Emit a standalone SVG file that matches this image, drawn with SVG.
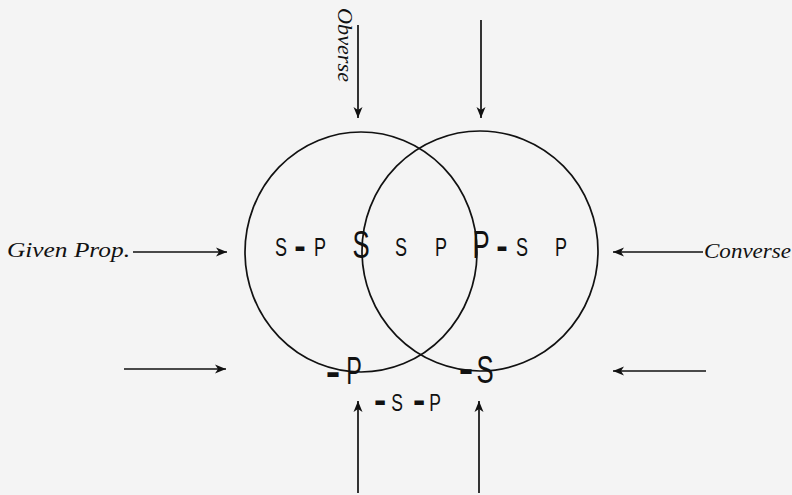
<svg xmlns="http://www.w3.org/2000/svg" width="792" height="495" viewBox="0 0 792 495">
<style>
.c{fill:none;stroke:#111;stroke-width:1.7}
.a{stroke:#111;stroke-width:1.7;fill:none}
.l{font-family:"Liberation Serif","DejaVu Serif",serif;font-style:italic;font-size:21px;fill:#111}
.s{font-family:"Liberation Sans","DejaVu Sans",sans-serif;font-size:25px;fill:#111;text-anchor:middle}
.b{font-family:"Liberation Sans","DejaVu Sans",sans-serif;font-size:39px;fill:#111;text-anchor:middle}
.d{font-family:"Liberation Sans","DejaVu Sans",sans-serif;font-weight:bold;font-size:23px;fill:#111;text-anchor:middle}
</style>
<defs>
<marker id="ah" markerUnits="userSpaceOnUse" markerWidth="12" markerHeight="10" refX="11" refY="5" orient="auto">
<path d="M0,0.5 L11,5 L0,9.5 L3,5 z" fill="#111"/>
</marker>
</defs>
<rect width="792" height="495" fill="#f4f4f4"/>
<g id="circle-S"><ellipse class="c" cx="361" cy="252" rx="116" ry="120"/></g>
<g id="circle-P"><ellipse class="c" cx="480" cy="251" rx="118" ry="120"/></g>
<g id="connectors">
<line class="a" x1="358" y1="25" x2="358" y2="118" marker-end="url(#ah)"/>
<line class="a" x1="481" y1="20" x2="481" y2="118" marker-end="url(#ah)"/>
<line class="a" x1="133" y1="252" x2="227" y2="252" marker-end="url(#ah)"/>
<line class="a" x1="703" y1="252" x2="613" y2="252" marker-end="url(#ah)"/>
<line class="a" x1="124" y1="369" x2="226" y2="369" marker-end="url(#ah)"/>
<line class="a" x1="706" y1="371" x2="613" y2="371" marker-end="url(#ah)"/>
<line class="a" x1="358" y1="493" x2="358" y2="401" marker-end="url(#ah)"/>
<line class="a" x1="479" y1="493" x2="479" y2="401" marker-end="url(#ah)"/>
</g>
<g id="label-obverse"><text class="l" transform="translate(338 8) rotate(90)" textLength="74" lengthAdjust="spacingAndGlyphs" font-size="20">Obverse</text></g>
<g id="label-given"><text class="l" x="7" y="257" textLength="123" lengthAdjust="spacingAndGlyphs">Given Prop.</text></g>
<g id="label-converse"><text class="l" x="704" y="258" textLength="87" lengthAdjust="spacingAndGlyphs">Converse</text></g>
<g id="node-given">
<text class="s" transform="translate(281 256) scale(0.72 1)">S</text>
<text class="d" transform="translate(300 258) scale(1.5 1.6)">-</text>
<text class="s" transform="translate(320 256) scale(0.72 1)">P</text>
</g>
<g id="node-S"><text class="b" transform="translate(361 258) scale(0.66 1)">S</text></g>
<g id="node-SP">
<text class="s" transform="translate(401 256) scale(0.72 1)">S</text>
<text class="s" transform="translate(441 256) scale(0.72 1)">P</text>
</g>
<g id="node-P"><text class="b" transform="translate(481 258) scale(0.66 1)">P</text></g>
<g id="node-converse">
<text class="d" transform="translate(502 258) scale(1.5 1.6)">-</text>
<text class="s" transform="translate(522 256) scale(0.72 1)">S</text>
<text class="s" transform="translate(561 256) scale(0.72 1)">P</text>
</g>
<g id="node-notP">
<text class="d" transform="translate(333 385) scale(1.9 1.7)">-</text>
<text class="b" transform="translate(354 384) scale(0.6 1)">P</text>
</g>
<g id="node-notS">
<text class="d" transform="translate(466 382) scale(1.9 1.7)">-</text>
<text class="b" transform="translate(485 383) scale(0.66 1)">S</text>
</g>
<g id="node-notSnotP">
<text class="d" transform="translate(380 412) scale(1.6 1.6)">-</text>
<text class="s" transform="translate(397 411) scale(0.7 0.95)">S</text>
<text class="d" transform="translate(419 412) scale(1.6 1.6)">-</text>
<text class="s" transform="translate(435 411) scale(0.7 0.95)">P</text>
</g>
</svg>
